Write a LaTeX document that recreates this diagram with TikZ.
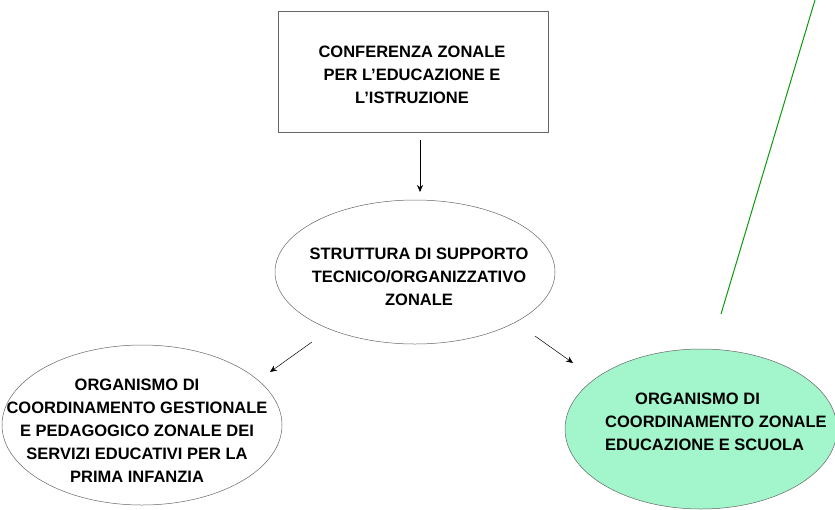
\documentclass[tikz,border=0pt]{standalone}
\usepackage{fontspec}
\setmainfont{Liberation Sans}
\usetikzlibrary{shapes.geometric,arrows.meta}
\definecolor{lgreen}{HTML}{A3F5CB}
\definecolor{dgreen}{HTML}{0A9A0A}
\tikzset{
  txt/.style={font=\bfseries\fontsize{16.5}{23}\selectfont, align=center, inner sep=0pt},
  ell/.style={ellipse, draw=black!60, line width=0.5pt, inner sep=0pt},
  arr/.style={-{Stealth[length=7pt,width=6pt]}, line width=0.5pt},
}
\begin{document}
\begin{tikzpicture}[x=1pt,y=-1pt]
\useasboundingbox (0,0) rectangle (835,509);
\node[draw=black!60, line width=0.5pt, minimum width=270pt, minimum height=121pt] (conf) at (413,71.5) {};
\node[txt] (conft) at (412,75) {CONFERENZA ZONALE\\PER L’EDUCAZIONE E\\L’ISTRUZIONE};
\node[ell, minimum width=280pt, minimum height=144pt] (strut) at (415,272) {};
\node[txt] (strutt) at (419,277) {STRUTTURA DI SUPPORTO\\TECNICO/ORGANIZZATIVO\\ZONALE};
\node[ell, minimum width=280pt, minimum height=160pt] (left) at (142,425) {};
\node[txt] (leftt) at (137,431) {ORGANISMO DI\\COORDINAMENTO GESTIONALE\\E PEDAGOGICO ZONALE DEI\\SERVIZI EDUCATIVI PER LA\\PRIMA INFANZIA};
\node[ell, fill=lgreen, minimum width=272pt, minimum height=160pt] (right) at (701,429) {};
\node[txt, align=left, anchor=west] (rightt) at (605,422) {\hspace*{30pt}ORGANISMO DI\\COORDINAMENTO ZONALE\\EDUCAZIONE E SCUOLA};
\coordinate (a1) at (420,140);
\coordinate (a2) at (420,192);
\draw[arr] (a1) -- (a2);
\coordinate (b1) at (312,342);
\coordinate (b2) at (270,372);
\draw[arr] (b1) -- (b2);
\coordinate (c1) at (535,336);
\coordinate (c2) at (573,363);
\draw[arr] (c1) -- (c2);
\coordinate (g1) at (721,314);
\coordinate (g2) at (815,0);
\draw[dgreen, line width=1pt] (g1) -- (g2);
\end{tikzpicture}
\end{document}
